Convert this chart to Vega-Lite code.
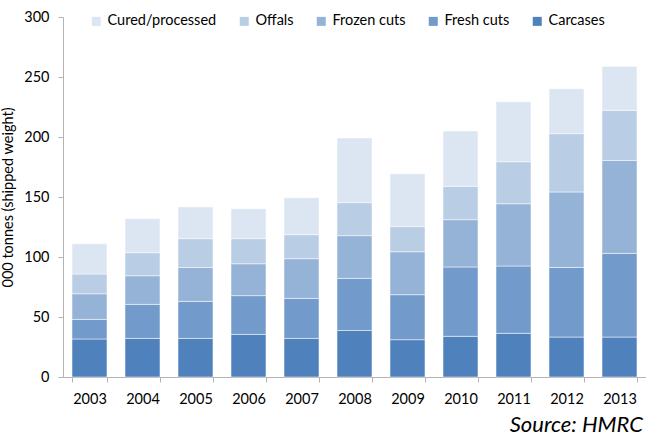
{
  "$schema": "https://vega.github.io/schema/vega-lite/v6.json",
  "width": 583,
  "height": 360,
  "autosize": {"type": "none"},
  "padding": {"left": 63, "top": 17, "right": 0, "bottom": 63},
  "background": "white",
  "title": {
    "text": "Source: HMRC",
    "orient": "bottom",
    "anchor": "end",
    "fontStyle": "italic",
    "fontWeight": "normal",
    "fontSize": 22,
    "font": "Lato",
    "color": "#000000",
    "offset": 9,
    "dx": -3
  },
  "data": {
    "values": [
      {"year": "2003", "type": "Carcases", "k": 1, "value": 31.7},
      {"year": "2003", "type": "Fresh cuts", "k": 2, "value": 16.3},
      {"year": "2003", "type": "Frozen cuts", "k": 3, "value": 21.4},
      {"year": "2003", "type": "Offals", "k": 4, "value": 16.4},
      {"year": "2003", "type": "Cured/processed", "k": 5, "value": 25.3},
      {"year": "2004", "type": "Carcases", "k": 1, "value": 32.2},
      {"year": "2004", "type": "Fresh cuts", "k": 2, "value": 28.3},
      {"year": "2004", "type": "Frozen cuts", "k": 3, "value": 23.9},
      {"year": "2004", "type": "Offals", "k": 4, "value": 19.2},
      {"year": "2004", "type": "Cured/processed", "k": 5, "value": 28.3},
      {"year": "2005", "type": "Carcases", "k": 1, "value": 32.2},
      {"year": "2005", "type": "Fresh cuts", "k": 2, "value": 30.8},
      {"year": "2005", "type": "Frozen cuts", "k": 3, "value": 28.3},
      {"year": "2005", "type": "Offals", "k": 4, "value": 24.0},
      {"year": "2005", "type": "Cured/processed", "k": 5, "value": 26.4},
      {"year": "2006", "type": "Carcases", "k": 1, "value": 35.5},
      {"year": "2006", "type": "Fresh cuts", "k": 2, "value": 32.3},
      {"year": "2006", "type": "Frozen cuts", "k": 3, "value": 26.6},
      {"year": "2006", "type": "Offals", "k": 4, "value": 20.9},
      {"year": "2006", "type": "Cured/processed", "k": 5, "value": 25.0},
      {"year": "2007", "type": "Carcases", "k": 1, "value": 32.2},
      {"year": "2007", "type": "Fresh cuts", "k": 2, "value": 33.3},
      {"year": "2007", "type": "Frozen cuts", "k": 3, "value": 33.1},
      {"year": "2007", "type": "Offals", "k": 4, "value": 20.0},
      {"year": "2007", "type": "Cured/processed", "k": 5, "value": 30.8},
      {"year": "2008", "type": "Carcases", "k": 1, "value": 38.8},
      {"year": "2008", "type": "Fresh cuts", "k": 2, "value": 43.4},
      {"year": "2008", "type": "Frozen cuts", "k": 3, "value": 35.6},
      {"year": "2008", "type": "Offals", "k": 4, "value": 27.5},
      {"year": "2008", "type": "Cured/processed", "k": 5, "value": 53.9},
      {"year": "2009", "type": "Carcases", "k": 1, "value": 31.1},
      {"year": "2009", "type": "Fresh cuts", "k": 2, "value": 37.5},
      {"year": "2009", "type": "Frozen cuts", "k": 3, "value": 35.8},
      {"year": "2009", "type": "Offals", "k": 4, "value": 20.9},
      {"year": "2009", "type": "Cured/processed", "k": 5, "value": 44.1},
      {"year": "2010", "type": "Carcases", "k": 1, "value": 33.9},
      {"year": "2010", "type": "Fresh cuts", "k": 2, "value": 57.8},
      {"year": "2010", "type": "Frozen cuts", "k": 3, "value": 39.4},
      {"year": "2010", "type": "Offals", "k": 4, "value": 27.8},
      {"year": "2010", "type": "Cured/processed", "k": 5, "value": 46.1},
      {"year": "2011", "type": "Carcases", "k": 1, "value": 36.4},
      {"year": "2011", "type": "Fresh cuts", "k": 2, "value": 56.1},
      {"year": "2011", "type": "Frozen cuts", "k": 3, "value": 51.9},
      {"year": "2011", "type": "Offals", "k": 4, "value": 35.0},
      {"year": "2011", "type": "Cured/processed", "k": 5, "value": 50.0},
      {"year": "2012", "type": "Carcases", "k": 1, "value": 33.3},
      {"year": "2012", "type": "Fresh cuts", "k": 2, "value": 58.0},
      {"year": "2012", "type": "Frozen cuts", "k": 3, "value": 62.9},
      {"year": "2012", "type": "Offals", "k": 4, "value": 48.6},
      {"year": "2012", "type": "Cured/processed", "k": 5, "value": 37.5},
      {"year": "2013", "type": "Carcases", "k": 1, "value": 33.3},
      {"year": "2013", "type": "Fresh cuts", "k": 2, "value": 69.7},
      {"year": "2013", "type": "Frozen cuts", "k": 3, "value": 77.5},
      {"year": "2013", "type": "Offals", "k": 4, "value": 41.7},
      {"year": "2013", "type": "Cured/processed", "k": 5, "value": 36.6}
    ]
  },
  "mark": {"type": "bar", "stroke": "white", "strokeWidth": 0.5},
  "encoding": {
    "x": {
      "field": "year",
      "type": "ordinal",
      "scale": {"paddingInner": 0.34, "paddingOuter": 0.17},
      "axis": {
        "title": null,
        "labelAngle": 0,
        "tickBand": "extent",
        "tickSize": 5,
        "labelPadding": 10,
        "domainColor": "#b3b3b3",
        "tickColor": "#b3b3b3"
      }
    },
    "y": {
      "field": "value",
      "type": "quantitative",
      "stack": "zero",
      "scale": {"domain": [0, 300], "nice": false},
      "axis": {
        "title": "000 tonnes (shipped weight)",
        "values": [0, 50, 100, 150, 200, 250, 300],
        "grid": false,
        "tickSize": 5,
        "labelPadding": 9,
        "titlePadding": 8,
        "domainColor": "#b3b3b3",
        "tickColor": "#b3b3b3"
      }
    },
    "color": {
      "field": "type",
      "type": "nominal",
      "scale": {
        "domain": ["Cured/processed", "Offals", "Frozen cuts", "Fresh cuts", "Carcases"],
        "range": ["#dce6f2", "#b9cde5", "#95b3d7", "#729aca", "#4f81bd"]
      },
      "legend": {
        "title": null,
        "orient": "none",
        "direction": "horizontal",
        "legendX": 26,
        "legendY": -3,
        "symbolType": "square",
        "symbolSize": 81,
        "symbolStrokeWidth": 0,
        "columnPadding": 20,
        "labelOffset": 4
      }
    },
    "order": {"field": "k", "type": "quantitative", "sort": "ascending"}
  },
  "config": {
    "font": "Lato",
    "view": {"stroke": null},
    "axis": {
      "labelFont": "Lato",
      "labelFontSize": 14.5,
      "labelColor": "#000000",
      "titleFont": "Lato",
      "titleFontSize": 14.5,
      "titleFontWeight": "normal",
      "titleColor": "#000000"
    },
    "legend": {
      "labelFont": "Lato",
      "labelFontSize": 14.5,
      "labelColor": "#000000"
    }
  }
}
